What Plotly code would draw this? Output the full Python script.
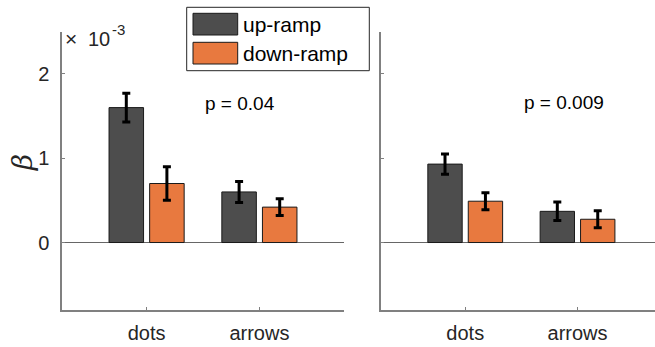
import plotly.graph_objects as go

categories = ["dots", "arrows"]
cat_pos = [1, 2]
series_names = ["up-ramp", "down-ramp"]
colors = ["#4d4d4d", "#e8793f"]

left_up = [1.60, 0.60]
left_up_err = [0.17, 0.125]
left_down = [0.70, 0.42]
left_down_err = [0.20, 0.10]

right_up = [0.93, 0.37]
right_up_err = [0.12, 0.11]
right_down = [0.49, 0.276]
right_down_err = [0.10, 0.10]

p_texts = ["p = 0.04", "p = 0.009"]
ytick_vals = [0, 1, 2]
ytick_text = ["0", "1", "2"]

W, H = 655, 347
FONT = "Liberation Sans, Arial, Helvetica, sans-serif"
TXT = "#262626"
AX = "#808080"

fig = go.Figure()
panels = [
    (left_up, left_up_err, left_down, left_down_err, "x", "y"),
    (right_up, right_up_err, right_down, right_down_err, "x2", "y2"),
]
for up, uerr, down, derr, xa, ya in panels:
    for name, vals, errs, col in [(series_names[0], up, uerr, colors[0]),
                                   (series_names[1], down, derr, colors[1])]:
        fig.add_trace(go.Bar(
            x=cat_pos, y=vals, name=name, xaxis=xa, yaxis=ya,
            marker=dict(color=col, line=dict(color="#1a1a1a", width=1)),
            error_y=dict(type="data", array=errs, visible=True,
                         color="black", thickness=3, width=4),
            showlegend=False,
        ))

# domains in pixels
lx0, lx1 = 62, 344
rx0, rx1 = 381, 655
ytop, ybot = 31.7, 310
ydom = [(H - ybot) / H, (H - ytop) / H]

common_x = dict(
    tickmode="array", tickvals=cat_pos, ticktext=categories,
    ticks="inside", ticklen=3, tickcolor=AX, showline=True, linecolor=AX,
    linewidth=1.5, showgrid=False, zeroline=False,
    tickfont=dict(family=FONT, size=20, color=TXT), ticklabelstandoff=4,
)
common_y = dict(
    range=[-0.8, 2.5], tickvals=ytick_vals, ticktext=ytick_text,
    ticks="inside", ticklen=3, tickcolor=AX, showline=True, linecolor=AX,
    linewidth=1.5, showgrid=False, zeroline=True, zerolinecolor="#666666",
    zerolinewidth=1, tickfont=dict(family=FONT, size=20, color=TXT),
    domain=ydom,
)

fig.update_layout(
    width=W, height=H, margin=dict(l=0, r=0, t=0, b=0),
    paper_bgcolor="white", plot_bgcolor="white",
    barmode="group", bargap=0.28, bargroupgap=0.15,
    xaxis=dict(common_x, domain=[lx0 / W, lx1 / W], range=[0.25, 2.75], anchor="y"),
    yaxis=dict(common_y, anchor="x", showticklabels=True, ticklabelstandoff=7),
    xaxis2=dict(common_x, domain=[rx0 / W, rx1 / W],
                range=[0.25, 0.25 + (rx1 - rx0) / 112.3], anchor="y2"),
    yaxis2=dict(common_y, anchor="x2", showticklabels=False),
    font=dict(family=FONT, color=TXT),
)

# p-value annotations
fig.add_annotation(x=1.83, y=1.65, xref="x", yref="y", text=p_texts[0],
                   showarrow=False, font=dict(family=FONT, size=19, color="black"))
fig.add_annotation(x=1.88, y=1.66, xref="x2", yref="y2", text=p_texts[1],
                   showarrow=False, font=dict(family=FONT, size=19, color="black"))

# y label (rotated, MATLAB style)
fig.add_annotation(x=22 / W, y=1 - 163 / H, xref="paper", yref="paper",
                   xanchor="center", yanchor="middle",
                   text="<i>β</i>", showarrow=False, textangle=-90,
                   font=dict(family="DejaVu Serif, Times New Roman, serif", size=28, color=TXT))

# exponent label: "× 10" and superscript "-3"
fig.add_annotation(x=63 / W, y=1 - 39 / H, xref="paper", yref="paper",
                   xanchor="left", yanchor="middle", text="×", showarrow=False,
                   font=dict(family=FONT, size=21, color=TXT))
fig.add_annotation(x=86 / W, y=1 - 39 / H, xref="paper", yref="paper",
                   xanchor="left", yanchor="middle", text="10", showarrow=False,
                   font=dict(family=FONT, size=20, color=TXT))
fig.add_annotation(x=110 / W, y=1 - 29 / H, xref="paper", yref="paper",
                   xanchor="left", yanchor="middle", text="-3", showarrow=False,
                   font=dict(family=FONT, size=15, color=TXT))

# legend (drawn manually for MATLAB-style wide swatches)
fig.add_shape(type="rect", xref="paper", yref="paper",
              x0=186.7 / W, x1=369.3 / W, y0=1 - 70.7 / H, y1=1 - 7.3 / H,
              line=dict(color="#262626", width=1), fillcolor="white")
sw = [(13.3, 35), (42.3, 64)]
for (t, b), col, name in zip(sw, colors, series_names):
    fig.add_shape(type="rect", xref="paper", yref="paper",
                  x0=193 / W, x1=237.7 / W, y0=1 - b / H, y1=1 - t / H,
                  line=dict(color="#1a1a1a", width=1), fillcolor=col)
    fig.add_annotation(x=240.5 / W, y=1 - (t + b) / 2 / H, xref="paper", yref="paper",
                       xanchor="left", yanchor="middle", text=name, showarrow=False,
                       font=dict(family=FONT, size=21, color="black"))

fig.write_html("out.html")
